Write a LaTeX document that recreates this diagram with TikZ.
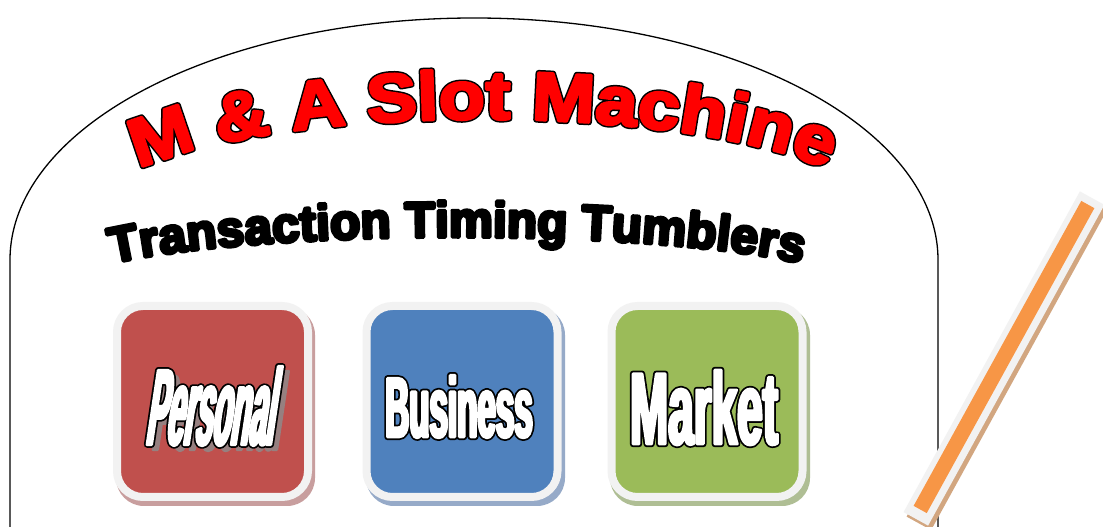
\documentclass[tikz,border=0pt]{standalone}
\usepackage{fontspec}
\usetikzlibrary{decorations.text}
\newfontfamily\titlefont{Liberation Sans}[FakeStretch=1.11]
\newfontfamily\subfont{Liberation Sans}[FakeStretch=0.99]
\newfontfamily\personalfont{Liberation Sans}[FakeStretch=0.28, FakeSlant=0.15]
\newfontfamily\businessfont{Liberation Sans}[FakeStretch=0.39]
\newfontfamily\marketfont{Liberation Sans}[FakeStretch=0.45]
\definecolor{redfill}{HTML}{C0504D}
\definecolor{bluefill}{HTML}{4F81BD}
\definecolor{greenfill}{HTML}{9BBB59}
\definecolor{redshadow}{RGB}{200,158,158}
\definecolor{blueshadow}{RGB}{150,170,200}
\definecolor{greenshadow}{RGB}{175,190,148}
\definecolor{bordergray}{HTML}{F2F2F2}
\definecolor{pencilorange}{HTML}{F79646}
\definecolor{pencilshadow}{RGB}{210,166,128}
\definecolor{textshadow}{RGB}{150,128,128}
\newcommand\strokeblack[1]{\special{pdf:literal direct 0 0 0 RG 1 j #1 w 2 Tr}}
\newcommand\strokered[1]{\special{pdf:literal direct 1 0 0 RG 1 j #1 w 2 Tr}}
\newcommand\strokewhite[1]{\special{pdf:literal direct 1 1 1 RG 1 j #1 w 2 Tr}}
\newcommand\strokegray[1]{\special{pdf:literal direct 0.588 0.502 0.502 RG 1 j #1 w 2 Tr}}
\newcommand\strokeoff{\special{pdf:literal direct 0 Tr}}
\newcommand\titleunder{\titlefont\bfseries\fontsize{68}{80}\selectfont\color{black}\strokeblack{6}}
\newcommand\titleover{\titlefont\bfseries\fontsize{68}{80}\selectfont\color{red}\strokered{3}}
\newcommand\substyle{\subfont\bfseries\fontsize{50}{60}\selectfont\color{black}\strokeblack{3.5}}
\newcommand\pfont{\personalfont\bfseries\fontsize{108}{108}\selectfont}
\newcommand\bfont{\businessfont\bfseries\fontsize{85}{85}\selectfont}
\newcommand\mfont{\marketfont\bfseries\fontsize{102}{102}\selectfont}
\tikzset{
  tumbler/.style={draw=bordergray, line width=8pt, rounded corners=26pt,
    minimum width=191pt, minimum height=191pt, inner sep=0pt},
  tumblershadow/.style={rounded corners=28pt},
  label text/.style={inner sep=0pt, outer sep=0pt}
}
\begin{document}
\begin{tikzpicture}[x=1pt,y=1pt]
\useasboundingbox (0,0) rectangle (1103,527);
\fill[white] (0,0) rectangle (1103,527);
% arch outline
\draw[line width=1.3pt] (10,0) -- (10,267) arc[start angle=180,end angle=0,x radius=464,y radius=242] -- (938,0);
% title: black outline layer, then red layer
\path[decorate, decoration={text along path, text align=center,
  text={|\titleunder|M {\&} A Slot Machine}}]
  (105.82,333.63) arc[start angle=170,end angle=10,x radius=383,y radius=90];
\path[decorate, decoration={text along path, text align=center,
  text={|\titleover|M {\&} A Slot Machine}}]
  (105.82,333.63) arc[start angle=170,end angle=10,x radius=383,y radius=90];
% subtitle
\path[decorate, decoration={text along path, text align=center,
  text={|\substyle|Transaction Timing Tumblers}}]
  (62.5,242.5) arc[start angle=175,end angle=5,x radius=396,y radius=52];
% shadows of boxes
\fill[redshadow, tumblershadow] (116,21) rectangle (315,220);
\fill[blueshadow, tumblershadow] (366,21) rectangle (565,220);
\fill[greenshadow, tumblershadow] (610,21) rectangle (810,220);
% boxes
\node[tumbler, fill=redfill] (personal) at (212.5,125.5) {};
\node[tumbler, fill=bluefill] (business) at (462,125.5) {};
\node[tumbler, fill=greenfill] (market) at (707,125.5) {};
% box texts
\node[label text] (personalshadow) at (215,116) {\pfont\color{textshadow}\strokegray{3}Personal\strokeoff};
\node[label text] (personalunder) at (209,121) {\pfont\color{black}\strokeblack{6.5}Personal\strokeoff};
\node[label text] (personaltext) at (209,121) {\pfont\color{white}\strokewhite{3}Personal\strokeoff};
\node[label text] (businessunder) at (459,120.5) {\bfont\color{black}\strokeblack{6.5}Business\strokeoff};
\node[label text] (businesstext) at (459,120.5) {\bfont\color{white}\strokewhite{3}Business\strokeoff};
\node[label text] (marketunder) at (704,119.5) {\mfont\color{black}\strokeblack{6.5}Market\strokeoff};
\node[label text] (markettext) at (704,119.5) {\mfont\color{white}\strokewhite{3}Market\strokeoff};
% pencil stick
\fill[pencilshadow, shift={(1007,164)}, rotate=61.2] (-183,-14) rectangle (183,14);
\fill[bordergray, shift={(1004,168.5)}, rotate=61.2] (-183,-14) rectangle (183,14);
\fill[pencilorange, shift={(1004,170)}, rotate=61.2] (-174,-7.5) rectangle (174,7.5);
\end{tikzpicture}
\end{document}
